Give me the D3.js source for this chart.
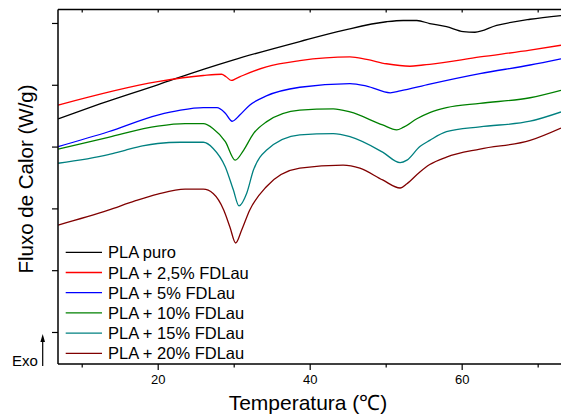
<!DOCTYPE html>
<html>
<head>
<meta charset="utf-8">
<script src="https://cdn.jsdelivr.net/npm/d3@7"></script>
<style>
  body { margin: 0; background: #fff; }
  svg { display: block; font-family: "Liberation Sans", Arial, sans-serif; }
</style>
</head>
<body>
<svg id="chart" width="561" height="419"></svg>
<script>
// DSC curves, [temperatura (°C), fluxo (u.a.)]
const seriesNames = ["PLA puro", "PLA + 2,5% FDLau", "PLA + 5% FDLau", "PLA + 10% FDLau", "PLA + 15% FDLau", "PLA + 20% FDLau"];
const seriesColors = ["#000000", "#ff0000", "#0000ff", "#008000", "#008080", "#800000"];

const plaPuro = [[6.9,3.45],[12.4,3.69],[20.0,4.00],[26.0,4.25],[29.9,4.40],[38.7,4.70],[44.4,4.88],[50.1,5.02],[52.3,5.04],[54.1,5.04],[55.8,4.99],[58.0,4.94],[60.2,4.86],[61.75,4.85],[64.6,4.96],[69.0,5.06],[73.07,5.12]];
const pla25 = [[6.9,3.67],[20.0,4.05],[26.0,4.15],[28.4,4.17],[29.0,4.13],[29.7,4.07],[30.3,4.10],[31.2,4.15],[34.3,4.29],[38.7,4.39],[45.3,4.45],[47.5,4.41],[50.1,4.34],[53.2,4.30],[54.9,4.32],[55.8,4.33],[62.4,4.45],[69.0,4.56],[73.07,4.64]];
const pla5 = [[6.9,3.00],[13.5,3.24],[20.0,3.51],[23.0,3.59],[26.0,3.63],[27.8,3.63],[28.9,3.54],[29.8,3.41],[30.8,3.51],[32.1,3.67],[34.3,3.82],[38.7,3.96],[45.3,4.02],[47.5,3.98],[50.6,3.87],[51.9,3.90],[55.8,4.01],[62.4,4.18],[69.0,4.32],[73.07,4.42]];
const pla10 = [[6.9,2.96],[13.5,3.15],[20.0,3.33],[23.6,3.37],[26.0,3.37],[27.3,3.29],[28.9,3.08],[30.2,2.78],[31.3,2.94],[32.6,3.21],[34.3,3.40],[38.7,3.59],[43.1,3.61],[45.3,3.56],[49.6,3.35],[51.45,3.27],[52.3,3.31],[54.1,3.45],[55.8,3.55],[58.0,3.63],[62.4,3.70],[69.0,3.79],[73.07,3.91]];
const pla15 = [[6.9,2.73],[13.5,2.87],[15.7,2.94],[18.0,3.01],[20.0,3.05],[23.0,3.07],[26.0,3.07],[27.3,2.97],[28.9,2.67],[29.95,2.30],[30.7,2.04],[31.7,2.24],[32.6,2.62],[34.3,2.94],[38.7,3.19],[43.1,3.21],[45.3,3.16],[49.6,2.91],[51.9,2.74],[52.8,2.78],[54.5,3.00],[55.8,3.10],[58.0,3.24],[62.4,3.32],[69.0,3.41],[73.07,3.56]];
const pla20 = [[6.9,1.73],[13.5,1.97],[17.0,2.12],[20.0,2.23],[23.6,2.31],[26.0,2.31],[27.3,2.24],[28.7,1.97],[29.5,1.70],[30.26,1.44],[31.05,1.65],[32.1,1.97],[34.3,2.35],[38.7,2.65],[44.4,2.70],[46.6,2.65],[49.6,2.46],[51.9,2.33],[52.8,2.40],[54.5,2.59],[55.8,2.71],[58.0,2.83],[62.4,2.96],[69.0,3.10],[73.07,3.30]];
const seriesData = [plaPuro, pla25, pla5, pla10, pla15, pla20];

const xMajorTicks = [20, 40, 60];
const xMinorTicks = [10, 30, 50, 70];
const yTicks = [0, 1, 2, 3, 4, 5];

const svg = d3.select("#chart");
const plotLeft = 58, plotRight = 561, plotTop = 9.5, plotBottom = 364;

const x = d3.scaleLinear().domain([6.88, 73.07]).range([plotLeft, plotRight]);
const y = d3.scaleLinear().domain([-0.518, 5.218]).range([plotBottom, plotTop]);

svg.append("defs").append("clipPath").attr("id", "clip")
  .append("rect").attr("x", plotLeft).attr("y", plotTop).attr("width", plotRight - plotLeft).attr("height", plotBottom - plotTop);

// curves
const line = d3.line().x(d => x(d[0])).y(d => y(d[1])).curve(d3.curveMonotoneX);
const curves = svg.append("g").attr("clip-path", "url(#clip)");
seriesData.forEach((s, i) => {
  curves.append("path")
    .attr("d", line(s))
    .attr("fill", "none")
    .attr("stroke", seriesColors[i])
    .attr("stroke-width", 1.3);
});

// axes
const axisBottom = svg.append("g").attr("transform", `translate(0,${plotBottom})`)
  .call(d3.axisBottom(x).tickValues(xMajorTicks).tickSize(6).tickPadding(5).tickFormat(d3.format("d")));
svg.append("g").attr("transform", `translate(0,${plotBottom})`)
  .call(d3.axisBottom(x).tickValues(xMinorTicks).tickSize(3.5).tickFormat(""));
svg.append("g").attr("transform", `translate(0,${plotTop})`)
  .call(d3.axisBottom(x).tickValues(xMajorTicks.concat(xMinorTicks)).tickSize(3).tickFormat(""));
svg.append("g").attr("transform", `translate(${plotLeft},0)`)
  .call(d3.axisLeft(y).tickValues(yTicks).tickSize(6).tickFormat(""));

svg.selectAll(".domain").remove();
svg.selectAll(".tick line").attr("stroke", "#000").attr("stroke-width", 1.2);
axisBottom.selectAll("text").attr("font-size", 13).attr("font-family", "Liberation Sans, Arial, sans-serif").attr("fill", "#000");

svg.append("line").attr("x1", plotLeft).attr("x2", plotRight).attr("y1", plotBottom).attr("y2", plotBottom).attr("stroke", "#000").attr("stroke-width", 1.5);
svg.append("line").attr("x1", plotLeft).attr("x2", plotRight).attr("y1", plotTop).attr("y2", plotTop).attr("stroke", "#000").attr("stroke-width", 1.5);
svg.append("line").attr("x1", plotLeft).attr("x2", plotLeft).attr("y1", plotTop).attr("y2", plotBottom).attr("stroke", "#000").attr("stroke-width", 1.5);

// titles
svg.append("text").attr("x", 308).attr("y", 410).attr("text-anchor", "middle")
  .attr("font-size", 21).text("Temperatura (℃)");
svg.append("text").attr("transform", "translate(33,179) rotate(-90)").attr("text-anchor", "middle")
  .attr("font-size", 20.5).text("Fluxo de Calor (W/g)");

// Exo arrow
svg.append("text").attr("x", 12).attr("y", 366).attr("font-size", 15).text("Exo");
svg.append("line").attr("x1", 42.7).attr("x2", 42.7).attr("y1", 366).attr("y2", 340).attr("stroke", "#000").attr("stroke-width", 1.2);
svg.append("path").attr("d", "M42.7,334 L40.4,342 L45,342 Z").attr("fill", "#000");

// legend
const legend = svg.append("g");
seriesNames.forEach((name, i) => {
  const cy = 252.3 + i * 20.2;
  legend.append("line").attr("x1", 65.7).attr("x2", 102).attr("y1", cy).attr("y2", cy)
    .attr("stroke", seriesColors[i]).attr("stroke-width", 1.3);
  legend.append("text").attr("x", 108).attr("y", cy + 6).attr("font-size", 16.5).text(name);
});
</script>
</body>
</html>
